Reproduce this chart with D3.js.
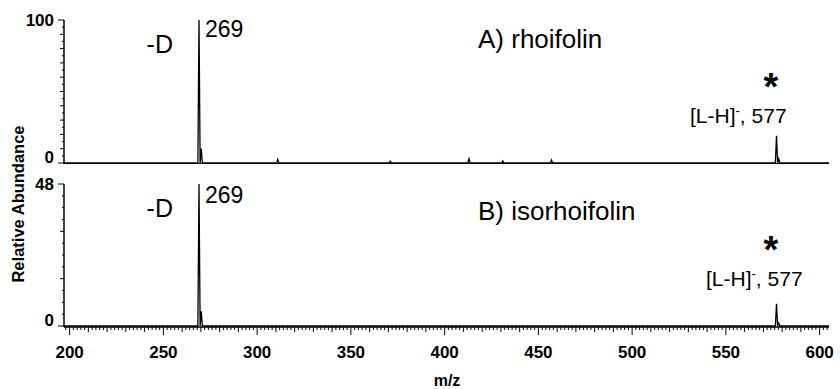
<!DOCTYPE html>
<html>
<head>
<meta charset="utf-8">
<script src="https://cdnjs.cloudflare.com/ajax/libs/d3/7.8.5/d3.min.js"></script>
<style>
  body { margin: 0; background: #fff; }
  svg { font-family: "Liberation Sans", Arial, sans-serif; }
</style>
</head>
<body>
<script>
// peaks: [m/z, relative abundance]
const peaksA = [[269, 100], [270.2, 10], [311, 2.5], [371, 1.2], [413, 3], [431, 1.5], [457, 2], [577, 19], [578.2, 3]];
const peaksB = [[269, 48], [270.2, 5], [577, 7.5], [578.2, 1]];
const xTicks = [200, 250, 300, 350, 400, 450, 500, 550, 600];
const yTicksA = [0, 100];
const yTicksB = [0, 48];

const width = 840, height = 389;

const svg = d3.select("body").append("svg")
    .attr("width", width)
    .attr("height", height);

const x = d3.scaleLinear().domain([197, 605]).range([64, 829]);
const yA = d3.scaleLinear().domain([0, 100]).range([163, 20]);
const yB = d3.scaleLinear().domain([0, 48]).range([326, 184]);

// turn a peak list into a stick-like trace on a flat baseline
const trace = (peaks) => {
    let pts = [[197, 0]];
    peaks.forEach(p => {
        pts.push([p[0] - 0.6, 0], [p[0], p[1]], [p[0] + 0.6, 0]);
    });
    pts.push([605, 0]);
    return pts;
}

const drawPanel = (peaks, y, ticks, minorStep, midStep) => {
    const g = svg.append("g");
    // y axis
    const [y0, y1] = y.domain();
    g.append("line")
        .attr("x1", 64).attr("x2", 64)
        .attr("y1", y(y0) + 1).attr("y2", y(y1))
        .attr("stroke", "#000").attr("stroke-width", 1.5);
    d3.range(y0, y1 + 0.01, minorStep).forEach(v => {
        let len = (v % midStep === 0) ? 4 : 2;
        if (v === y0 || v === y1) len = 6;
        g.append("line")
            .attr("x1", 64 - len).attr("x2", 64)
            .attr("y1", y(v)).attr("y2", y(v))
            .attr("stroke", "#000").attr("stroke-width", 1);
    });
    g.selectAll(".ylab")
        .data(ticks)
        .join("text")
        .attr("x", 54)
        .attr("y", d => d === 0 ? y(d) : y(d) + 6)
        .attr("text-anchor", "end")
        .attr("font-weight", "bold")
        .attr("font-size", 17)
        .text(d => d);

    const line = d3.line().x(d => x(d[0])).y(d => y(d[1]));
    g.append("path")
        .datum(trace(peaks))
        .attr("d", line)
        .attr("fill", "none")
        .attr("stroke", "#000")
        .attr("stroke-width", 1.3);
    return g;
}

const gA = drawPanel(peaksA, yA, yTicksA, 5, 10);
const gB = drawPanel(peaksB, yB, yTicksB, 4, 16);

// top baseline thicker like the scan
gA.append("line")
    .attr("x1", 64).attr("x2", 829)
    .attr("y1", yA(0) + 0.5).attr("y2", yA(0) + 0.5)
    .attr("stroke", "#000").attr("stroke-width", 1.2);

// x axis on bottom panel
const xAxisY = yB(0) + 1;
svg.append("line")
    .attr("x1", 64).attr("x2", 829)
    .attr("y1", xAxisY).attr("y2", xAxisY)
    .attr("stroke", "#000").attr("stroke-width", 1.5);
d3.range(198, 605, 2).forEach(v => {
    let len = 3;
    if (v % 10 === 0) len = 5;
    if (v % 50 === 0) len = 8;
    svg.append("line")
        .attr("x1", x(v)).attr("x2", x(v))
        .attr("y1", xAxisY).attr("y2", xAxisY + len)
        .attr("stroke", "#000").attr("stroke-width", 1);
});
svg.selectAll(".xlab")
    .data(xTicks)
    .join("text")
    .attr("x", d => x(d))
    .attr("y", 358)
    .attr("text-anchor", "middle")
    .attr("font-weight", "bold")
    .attr("font-size", 17)
    .text(d => d);

svg.append("text")
    .attr("x", 447).attr("y", 386)
    .attr("text-anchor", "middle")
    .attr("font-weight", "bold")
    .attr("font-size", 16)
    .text("m/z");

svg.append("text")
    .attr("transform", "translate(24,204) rotate(-90)")
    .attr("text-anchor", "middle")
    .attr("font-weight", "bold")
    .attr("font-size", 16.5)
    .text("Relative Abundance");

// annotations; o = per-panel offsets
const annotate = (g, label, o) => {
    g.append("text").attr("x", 173).attr("y", o.d)
        .attr("text-anchor", "end").attr("font-size", 25).text("-D");
    g.append("text").attr("x", 205).attr("y", o.p)
        .attr("font-size", 23).text("269");
    g.append("text").attr("x", 478).attr("y", o.t)
        .attr("font-size", 26).text(label);
    g.append("text").attr("x", 771).attr("y", o.s)
        .attr("text-anchor", "middle").attr("font-size", 38).attr("font-weight", "bold").text("*");
    const t = g.append("text").attr("x", o.lx).attr("y", o.l)
        .attr("font-size", 21);
    t.append("tspan").text("[L-H]");
    t.append("tspan").attr("dy", -8).attr("font-size", 13).text("-");
    t.append("tspan").attr("dy", 8).text(", 577");
}
annotate(gA, "A) rhoifolin", {d: 53, p: 37, t: 48, s: 100, l: 123, lx: 690});
annotate(gB, "B) isorhoifolin", {d: 217, p: 203, t: 220, s: 263, l: 286, lx: 706});
</script>
</body>
</html>
